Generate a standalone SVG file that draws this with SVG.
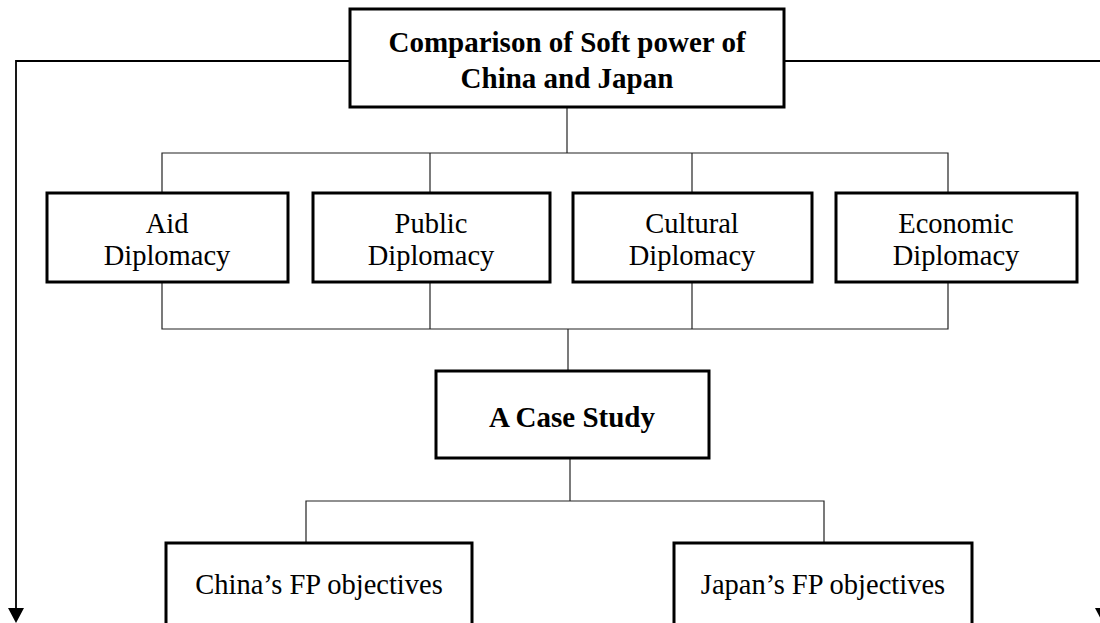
<svg xmlns="http://www.w3.org/2000/svg" width="1100" height="623" viewBox="0 0 1100 623">
  <style>
    .box { fill: #fff; stroke: #000; stroke-width: 3; }
    .link { fill: none; stroke: #222; stroke-width: 1.2; }
    .side { fill: none; stroke: #000; stroke-width: 1.8; }
    .head { fill: #000; }
    .lbl { font-family: "Liberation Serif", "Times New Roman", serif; font-size: 28.5px; fill: #000; text-anchor: middle; }
    .bold { font-weight: bold; font-size: 29px; }
  </style>

  <!-- connectors -->
  <g id="connectors">
    <!-- long side arrows from the title box -->
    <path class="side" d="M350,61 H16 V608"/>
    <path class="head" d="M8,608 L24,608 L16,623 Z"/>
    <path class="side" d="M784,61 H1103 V608"/>
    <path class="head" d="M1095,608 L1111,608 L1103,623 Z"/>
    <!-- title to the four diplomacy boxes -->
    <path class="link" d="M567,107 V153"/>
    <path class="link" d="M162,193 V153 H948 V193"/>
    <path class="link" d="M430,153 V193"/>
    <path class="link" d="M692,153 V193"/>
    <!-- diplomacy boxes to the case study -->
    <path class="link" d="M162,282 V329 H948 V282"/>
    <path class="link" d="M430,282 V329"/>
    <path class="link" d="M692,282 V329"/>
    <path class="link" d="M568,329 V371"/>
    <!-- case study to the two objectives boxes -->
    <path class="link" d="M570,458 V501"/>
    <path class="link" d="M306,543 V501 H824 V543"/>
  </g>

  <g id="node-title">
    <rect class="box" x="350" y="9" width="434" height="98"/>
    <text class="lbl bold" x="567" y="52">Comparison of Soft power of</text>
    <text class="lbl bold" x="567" y="88">China and Japan</text>
  </g>

  <g id="node-aid">
    <rect class="box" x="47" y="193" width="241" height="89"/>
    <text class="lbl" x="167" y="233">Aid</text>
    <text class="lbl" x="167" y="265">Diplomacy</text>
  </g>

  <g id="node-public">
    <rect class="box" x="313" y="193" width="237" height="89"/>
    <text class="lbl" x="431" y="233">Public</text>
    <text class="lbl" x="431" y="265">Diplomacy</text>
  </g>

  <g id="node-cultural">
    <rect class="box" x="573" y="193" width="239" height="89"/>
    <text class="lbl" x="692" y="233">Cultural</text>
    <text class="lbl" x="692" y="265">Diplomacy</text>
  </g>

  <g id="node-economic">
    <rect class="box" x="836" y="193" width="241" height="89"/>
    <text class="lbl" x="956" y="233">Economic</text>
    <text class="lbl" x="956" y="265">Diplomacy</text>
  </g>

  <g id="node-case">
    <rect class="box" x="436" y="371" width="273" height="87"/>
    <text class="lbl bold" x="572" y="427">A Case Study</text>
  </g>

  <g id="node-china">
    <rect class="box" x="166" y="543" width="306" height="100"/>
    <text class="lbl" x="319" y="594">China’s FP objectives</text>
  </g>

  <g id="node-japan">
    <rect class="box" x="674" y="543" width="298" height="100"/>
    <text class="lbl" x="823" y="594">Japan’s FP objectives</text>
  </g>
</svg>
